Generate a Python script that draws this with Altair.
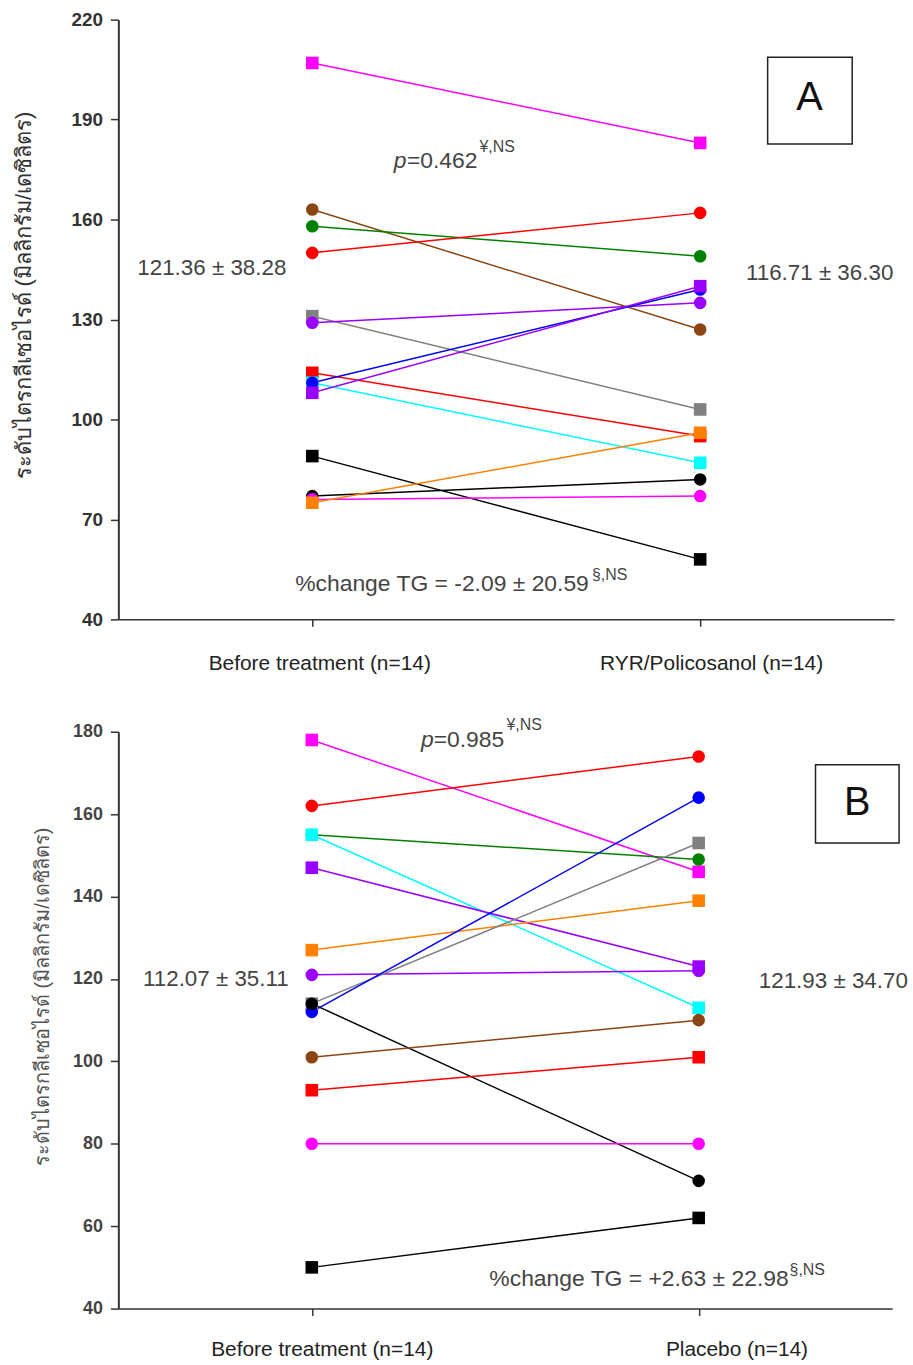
import altair as alt
import pandas as pd

# ---------------- Panel A data ----------------
a_ids = [f"a{i}" for i in range(14)]
a_colors = ["#ff00ff", "#8b4513", "#008000", "#ff0000", "#808080", "#9900ff", "#ff0000",
            "#00ffff", "#0000ff", "#9900ff", "#000000", "#000000", "#ff00ff", "#ff8000"]
a_shapes = ["square", "circle", "circle", "circle", "square", "circle", "square",
            "square", "circle", "square", "square", "circle", "circle", "square"]
a_before = [207, 163, 158, 150, 131, 129, 114, 111, 111, 108, 89, 77, 76, 75]
a_after = [183, 127, 149, 162, 103, 135, 95, 87, 139, 140, 58, 82, 77, 96]
a_xlabels = ["Before treatment (n=14)", "RYR/Policosanol (n=14)"]

# ---------------- Panel B data ----------------
b_ids = [f"b{i}" for i in range(14)]
b_colors = ["#ff00ff", "#ff0000", "#008000", "#00ffff", "#9900ff", "#ff8000", "#9900ff",
            "#808080", "#0000ff", "#000000", "#8b4513", "#ff0000", "#ff00ff", "#000000"]
b_shapes = ["square", "circle", "circle", "square", "square", "square", "circle",
            "square", "circle", "circle", "circle", "square", "circle", "square"]
b_before = [178, 162, 155, 155, 147, 127, 121, 114, 112, 114, 101, 93, 80, 50]
b_after = [146, 174, 149, 113, 123, 139, 122, 153, 164, 71, 110, 101, 80, 62]
b_xlabels = ["Before treatment (n=14)", "Placebo (n=14)"]

y_title = "ระดับไตรกลีเซอไรด์ (มิลลิกรัม/เดซิลิตร)"

# annotations: (t, value, text)
a_center_text = [(-0.259, 145.5, "121.36 ± 38.28"), (1.308, 144.0, "116.71 ± 36.30")]
a_p_italic = [(0.210, 175.4, "p")]
a_left_text = [(0.244, 175.4, "=0.462"), (-0.044, 48.4, "%change TG = -2.09 ± 20.59")]
a_sup_text = [(0.431, 180.3, "¥,NS"), (0.721, 51.9, "§,NS")]
a_box = [(1.174, 1.392, 182.7, 208.7)]
a_letter = [(1.282, 196.4, "A")]

b_center_text = [(-0.248, 120.1, "112.07 ± 35.11"), (1.348, 119.4, "121.93 ± 34.70")]
b_p_italic = [(0.282, 176.4, "p")]
b_left_text = [(0.315, 176.4, "=0.985"), (0.459, 45.6, "%change TG = +2.63 ± 22.98")]
b_sup_text = [(0.503, 180.5, "¥,NS"), (1.235, 48.2, "§,NS")]
b_box = [(1.302, 1.518, 153.0, 172.0)]
b_letter = [(1.410, 162.6, "B")]

all_ids = a_ids + b_ids
all_colors = a_colors + b_colors
all_shapes = a_shapes + b_shapes


def make_panel(ids, before, after, xlabels, ydom, yvals,
               center_text, p_italic, left_text, sup_text, box, letter,
               width, height, tick_size, lab_color, title_color, title_size,
               title_y, title_pad, lab_pad, off0, off1):
    rows = []
    for i in range(len(ids)):
        rows.append({"id": ids[i], "t": 0, "value": before[i]})
        rows.append({"id": ids[i], "t": 1, "value": after[i]})
    df = pd.DataFrame(rows)

    lab_expr = f"datum.value == 0 ? '{xlabels[0]}' : '{xlabels[1]}'"
    x = alt.X("t:Q", scale=alt.Scale(domain=[-0.5, 1.5], nice=False, zero=False),
              axis=alt.Axis(values=[0, 1], labelExpr=lab_expr, title=None, grid=False,
                            tickSize=7, labelPadding=lab_pad, labelFontSize=21, labelLimit=0,
                            labelColor="#222222", labelFont="Liberation Sans",
                            domainColor="#333333", tickColor="#333333",
                            domainWidth=1.5, tickWidth=1.5,
                            labelOffset={"condition": {"test": "datum.value == 1", "value": off1},
                                         "value": off0}))
    y = alt.Y("value:Q", scale=alt.Scale(domain=ydom, nice=False, zero=False),
              axis=alt.Axis(values=yvals, title=y_title, grid=False, tickSize=8,
                            labelFontSize=tick_size, labelFontWeight="bold",
                            labelColor=lab_color, labelFont="Liberation Sans",
                            labelPadding=8, titleFontSize=title_size, titleFontWeight="normal",
                            titleColor=title_color, titlePadding=title_pad, titleY=title_y,
                            domainColor="#333333", tickColor="#333333",
                            domainWidth=2, tickWidth=1.5))
    color = alt.Color("id:N", scale=alt.Scale(domain=all_ids, range=all_colors), legend=None)
    shape = alt.Shape("id:N", scale=alt.Scale(domain=all_ids, range=all_shapes), legend=None)

    base = alt.Chart(df)
    lines = base.mark_line(strokeWidth=1.5).encode(x=x, y=y, color=color, detail="id:N")
    points = base.mark_point(filled=True, size=160, opacity=1).encode(
        x="t:Q", y="value:Q", color=color, shape=shape)

    def tdf(items):
        return pd.DataFrame([{"t": a, "value": b, "label": c} for a, b, c in items])

    center = alt.Chart(tdf(center_text)).mark_text(
        fontSize=22.5, color="#444444", align="center", baseline="middle",
        font="Liberation Sans").encode(x="t:Q", y="value:Q", text="label:N")
    pit = alt.Chart(tdf(p_italic)).mark_text(
        fontSize=23, color="#444444", align="left", baseline="alphabetic",
        fontStyle="italic", font="Liberation Sans").encode(x="t:Q", y="value:Q", text="label:N")
    left = alt.Chart(tdf(left_text)).mark_text(
        fontSize=23, color="#444444", align="left", baseline="alphabetic",
        font="Liberation Sans").encode(x="t:Q", y="value:Q", text="label:N")
    sup = alt.Chart(tdf(sup_text)).mark_text(
        fontSize=16, color="#444444", align="left", baseline="alphabetic",
        font="Liberation Sans").encode(x="t:Q", y="value:Q", text="label:N")
    bdf = pd.DataFrame([{"t": a, "t2": b, "value": c, "value2": d} for a, b, c, d in box])
    rect = alt.Chart(bdf).mark_rect(fill="white", stroke="#222222", strokeWidth=1.5).encode(
        x="t:Q", x2="t2:Q", y="value:Q", y2="value2:Q")
    let = alt.Chart(tdf(letter)).mark_text(
        fontSize=40, color="#111111", align="center", baseline="middle",
        font="Liberation Sans").encode(x="t:Q", y="value:Q", text="label:N")

    return alt.layer(lines, points, center, pit, left, sup, rect, let).properties(
        width=width, height=height)


panel_a = make_panel(a_ids, a_before, a_after, a_xlabels,
                     [40, 220], [40, 70, 100, 130, 160, 190, 220],
                     a_center_text, a_p_italic, a_left_text, a_sup_text, a_box, a_letter,
                     780, 603, 19, "#333333", "#333333", 22, 277, 36, 26, 7, 11)
panel_b = make_panel(b_ids, b_before, b_after, b_xlabels,
                     [40, 180], [40, 60, 80, 100, 120, 140, 160, 180],
                     b_center_text, b_p_italic, b_left_text, b_sup_text, b_box, b_letter,
                     778, 580, 18, "#444444", "#555555", 20, 266, 20, 23, 10, 38)

chart = alt.vconcat(panel_a, panel_b, spacing=43).properties(
    padding={"left": 12, "top": 7, "right": 5, "bottom": 5}
).configure(background="white").configure_view(stroke=None)

chart.save("out.html", embed_options={"renderer": "svg", "actions": False})
